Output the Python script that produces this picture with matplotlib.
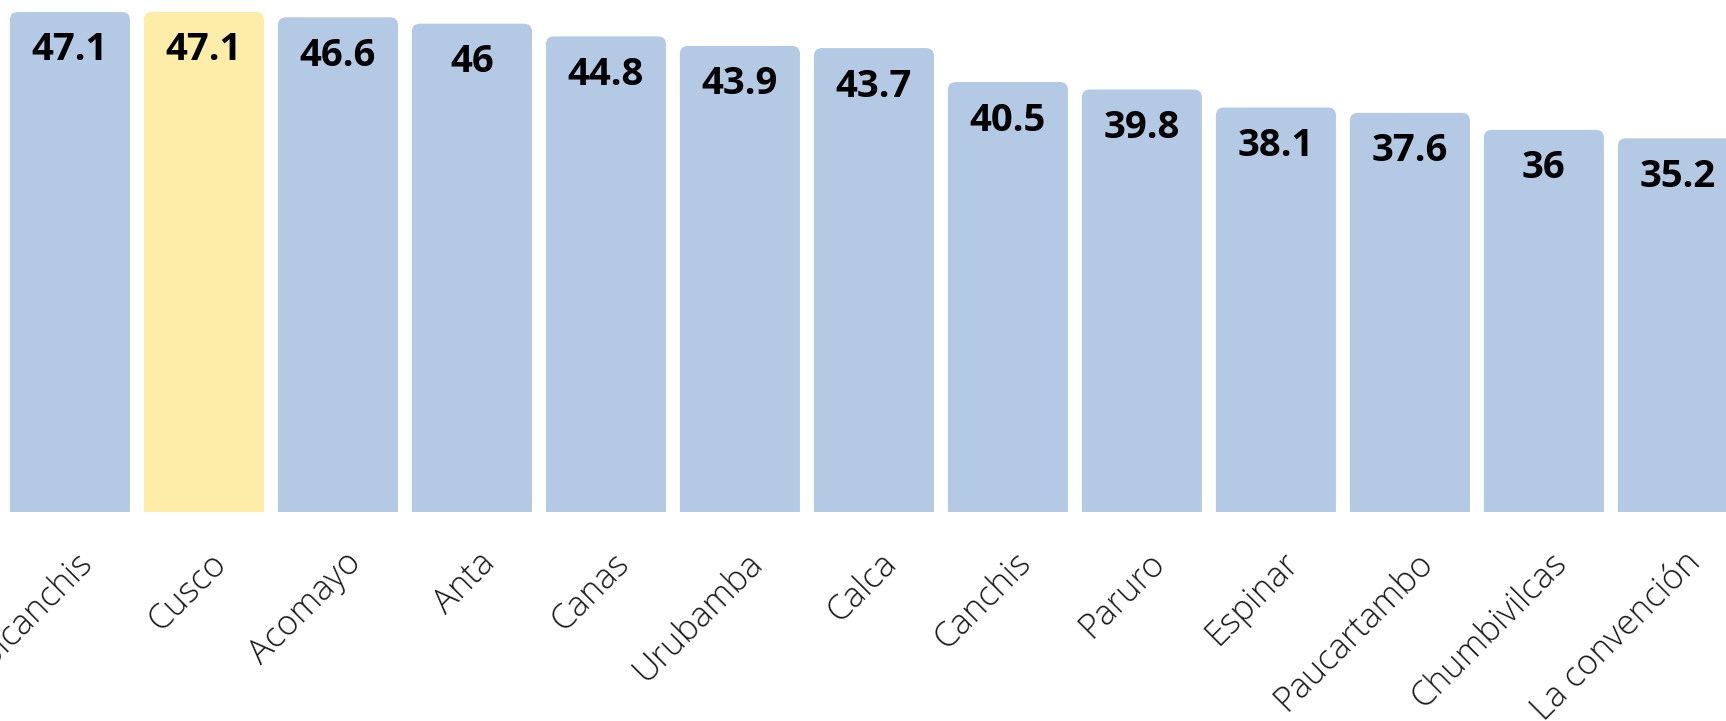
import matplotlib
matplotlib.use("Agg")
import matplotlib.pyplot as plt
from matplotlib.path import Path
from matplotlib.patches import PathPatch
import matplotlib.transforms as mtransforms

categories = ["Quispicanchis", "Cusco", "Acomayo", "Anta", "Canas", "Urubamba", "Calca",
              "Canchis", "Paruro", "Espinar", "Paucartambo", "Chumbivilcas", "La convención"]
values = [47.1, 47.1, 46.6, 46, 44.8, 43.9, 43.7, 40.5, 39.8, 38.1, 37.6, 36, 35.2]
highlight = "Cusco"

BLUE = "#B4C9E4"
YELLOW = "#FEEDA8"

fig = plt.figure(figsize=(17.26, 7.21), dpi=100)
ax = fig.add_axes([0, 0.2899, 1, 0.7101])

x = list(range(len(categories)))
width = 0.896
bars = ax.bar(x, values, width=width, color="none")

ax.set_xlim(-0.522, 12.359)
ax.set_ylim(0, 48.23)

# rounded top corners
rx = 8 / 134
ry = 8 / 10.616
for rect, cat in zip(bars, categories):
    x0 = rect.get_x(); w = rect.get_width(); h = rect.get_height()
    x1 = x0 + w
    verts = [(x0, 0), (x0, h - ry), (x0, h), (x0 + rx, h), (x1 - rx, h), (x1, h), (x1, h - ry), (x1, 0), (x0, 0)]
    codes = [Path.MOVETO, Path.LINETO, Path.CURVE3, Path.CURVE3, Path.LINETO, Path.CURVE3, Path.CURVE3,
             Path.LINETO, Path.CLOSEPOLY]
    col = YELLOW if cat == highlight else BLUE
    ax.add_patch(PathPatch(Path(verts, codes), facecolor=col, edgecolor="none"))
    rect.set_visible(False)

for xi, v in zip(x, values):
    ax.annotate(f"{v:g}", (xi, v), xytext=(0, -14), textcoords="offset points",
                ha="center", va="top", fontsize=27.5, fontweight="bold",
                family=["Open Sans", "DejaVu Sans"], color="black")

ax.set_xticks(x)
ax.set_xticklabels(categories, rotation=45, ha="right", va="center", rotation_mode="anchor",
                   fontsize=25, fontweight=300, family=["Open Sans", "DejaVu Sans"], color="#1a1a1a")
ax.tick_params(axis="x", length=0, pad=33)
offset = mtransforms.ScaledTranslation(18 / 100, 0, fig.dpi_scale_trans)
for lab in ax.get_xticklabels():
    lab.set_transform(lab.get_transform() + offset)

ax.set_yticks([])
for s in ax.spines.values():
    s.set_visible(False)

fig.savefig("out.png", dpi=100)
